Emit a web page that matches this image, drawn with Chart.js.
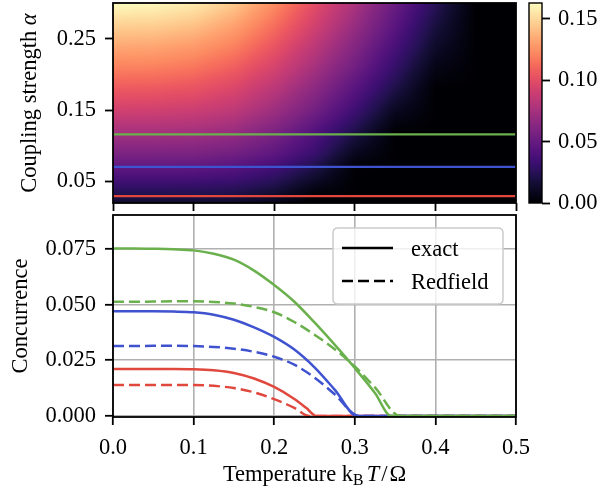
<!DOCTYPE html>
<html><head><meta charset="utf-8">
<script src="https://cdn.jsdelivr.net/npm/chart.js@4.4.0/dist/chart.umd.min.js"></script>
<style>
html,body{margin:0;padding:0;background:#fff;width:602px;height:493px;overflow:hidden}
canvas{position:absolute}
</style></head><body>
<canvas id="top" width="520" height="213" style="left:0;top:0"></canvas>
<canvas id="cbar" width="82" height="240" style="left:520px;top:0"></canvas>
<canvas id="bot" width="545" height="288" style="left:0;top:205px"></canvas>
<script>
// ---------------- data ----------------
const xTicks = [0, 0.1, 0.2, 0.3, 0.4, 0.5];
const alphaTicks = [0.05, 0.15, 0.25];
const concTicks = [0, 0.025, 0.05, 0.075];
const cbarTicks = [0, 0.05, 0.10, 0.15];

// heat map grid: temperature columns, coupling rows
const heatT = [0, 0.05, 0.1, 0.15, 0.2, 0.25, 0.3, 0.35, 0.4, 0.45, 0.5];
const heatAlpha = [0.02, 0.03, 0.05, 0.07, 0.09, 0.12, 0.15, 0.18, 0.21, 0.24, 0.27, 0.30];
const heatC = [
  [0.0140,0.0140,0.0139,0.0128,0.0075,0,0,0,0,0,0],
  [0.0211,0.0211,0.0210,0.0193,0.0130,0,0,0,0,0,0],
  [0.0340,0.0340,0.0337,0.0318,0.0248,0.0108,0,0,0,0,0],
  [0.0470,0.0470,0.0467,0.0430,0.0355,0.0215,0.0005,0,0,0,0],
  [0.0590,0.0590,0.0585,0.0550,0.0465,0.0320,0.0090,0,0,0,0],
  [0.0755,0.0754,0.0745,0.0700,0.0588,0.0420,0.0215,0,0,0,0],
  [0.0920,0.0917,0.0898,0.0845,0.0720,0.0550,0.0340,0.0100,0,0,0],
  [0.1060,0.1055,0.1030,0.0960,0.0830,0.0650,0.0440,0.0210,0,0,0],
  [0.1200,0.1195,0.1160,0.1080,0.0940,0.0750,0.0540,0.0300,0.0060,0,0],
  [0.1340,0.1330,0.1290,0.1200,0.1040,0.0840,0.0620,0.0380,0.0130,0,0],
  [0.1480,0.1470,0.1430,0.1320,0.1140,0.0930,0.0700,0.0450,0.0190,0,0],
  [0.1630,0.1615,0.1570,0.1450,0.1240,0.1000,0.0770,0.0510,0.0250,0,0]
];

// coupling strengths of the three cuts (red, blue, green)
const cutAlpha = [0.0297, 0.0707, 0.116];

// concurrence curves
const greenExactT = [0,0.025,0.05,0.075,0.1,0.125,0.15,0.175,0.2,0.225,0.25,0.275,0.3,0.325,0.345,0.4,0.5];
const greenExactC = [0.0752,0.0752,0.0751,0.0749,0.0744,0.0729,0.0702,0.0653,0.0588,0.0513,0.0420,0.0320,0.0215,0.0103,0,0,0];
const greenRedT = [0,0.025,0.05,0.075,0.1,0.125,0.15,0.175,0.2,0.225,0.25,0.275,0.3,0.325,0.356,0.4,0.5];
const greenRedC = [0.0513,0.0513,0.0514,0.0515,0.0515,0.0512,0.0505,0.0490,0.0466,0.0422,0.0365,0.0300,0.0222,0.0128,0,0,0];
const blueExactT = [0,0.025,0.05,0.075,0.1,0.125,0.15,0.175,0.2,0.225,0.25,0.275,0.303,0.4,0.5];
const blueExactC = [0.0470,0.0470,0.0470,0.0469,0.0466,0.0455,0.0432,0.0398,0.0355,0.0298,0.0218,0.0118,0,0,0];
const blueRedT = [0,0.025,0.05,0.075,0.1,0.125,0.15,0.175,0.2,0.225,0.25,0.275,0.305,0.4,0.5];
const blueRedC = [0.0314,0.0314,0.0315,0.0315,0.0314,0.0310,0.0302,0.0288,0.0266,0.0230,0.0172,0.0097,0,0,0];
const redExactT = [0,0.025,0.05,0.075,0.1,0.125,0.15,0.175,0.2,0.225,0.24,0.252,0.3,0.5];
const redExactC = [0.0211,0.0211,0.0211,0.0211,0.0210,0.0205,0.0193,0.0168,0.0130,0.0076,0.0035,0,0,0];
const redRedT = [0,0.025,0.05,0.075,0.1,0.125,0.15,0.175,0.2,0.225,0.243,0.3,0.5];
const redRedC = [0.0139,0.0139,0.0139,0.0139,0.0139,0.0135,0.0125,0.0106,0.0075,0.0036,0,0,0];

const legendLabels = ['exact', 'Redfield'];

// ---------------- styling ----------------
const GREEN = '#6ab04c', BLUE = '#3f52cf', RED = '#e0483e';
const FONT = "'Liberation Serif','Times New Roman',serif";
const FS = 22.5;
const DASH = [11, 5];
const LW = 2.5;

const MAGMA = [
 [0,0,4],[8,6,28],[20,14,54],[38,17,86],[59,15,112],[81,18,124],[100,26,128],[120,34,129],
 [140,41,129],[161,48,126],[183,55,121],[203,62,114],[222,73,104],[237,89,96],[247,112,92],
 [252,137,97],[254,159,109],[254,183,126],[254,207,146],[253,230,168],[252,253,191]
];
function magma(f){
  f = Math.max(0, Math.min(1, f));
  const p = f*(MAGMA.length-1), i = Math.min(MAGMA.length-2, Math.floor(p)), r = p-i;
  const a = MAGMA[i], b = MAGMA[i+1];
  return [a[0]+(b[0]-a[0])*r, a[1]+(b[1]-a[1])*r, a[2]+(b[2]-a[2])*r];
}
const VMAX = Math.max(...heatC.map(r => Math.max(...r)));

function findIdx(arr, v){
  if (v <= arr[0]) return [0, 0];
  if (v >= arr[arr.length-1]) return [arr.length-2, 1];
  for (let i = 0; i < arr.length-1; i++) if (v <= arr[i+1]) return [i, (v-arr[i])/(arr[i+1]-arr[i])];
  return [arr.length-2, 1];
}
function heatValue(t, a){
  const [i, fx] = findIdx(heatT, t), [j, fy] = findIdx(heatAlpha, a);
  const v00 = heatC[j][i], v01 = heatC[j][i+1], v10 = heatC[j+1][i], v11 = heatC[j+1][i+1];
  return (v00*(1-fx)+v01*fx)*(1-fy) + (v10*(1-fx)+v11*fx)*fy;
}

const fixTicks = arr => scale => { scale.ticks = arr.map(v => ({value: v})); };
const noPad = s => { s.paddingTop = 0; s.paddingBottom = 0; s.paddingLeft = 0; s.paddingRight = 0; };
const pts = (T, C) => T.map((t, i) => ({x: t, y: C[i]}));

function drawRich(ctx, segs, x, y, rotate){
  ctx.save();
  ctx.translate(x, y);
  if (rotate) ctx.rotate(-Math.PI/2);
  ctx.fillStyle = '#000';
  ctx.textBaseline = 'alphabetic';
  ctx.textAlign = 'left';
  let total = 0;
  segs.forEach(s => { ctx.font = s.font; s.w = ctx.measureText(s.t).width; total += s.w + (s.gap||0); });
  let cx = -total/2;
  segs.forEach(s => { cx += (s.gap||0); ctx.font = s.font; ctx.fillText(s.t, cx, s.dy||0); cx += s.w; });
  ctx.restore();
}
const framePlugin = {
  id: 'frame',
  afterDatasetsDraw(chart){
    const {ctx, chartArea: {left, top, right, bottom}} = chart;
    ctx.save(); ctx.strokeStyle = '#000'; ctx.lineWidth = 1.8;
    ctx.strokeRect(left, top, right-left, bottom-top); ctx.restore();
  }
};
const heatPlugin = {
  id: 'heat',
  beforeDatasetsDraw(chart){
    const {ctx, chartArea: {left, top, right, bottom}, scales: {x, y}} = chart;
    const w = Math.round(right-left), h = Math.round(bottom-top);
    const off = document.createElement('canvas'); off.width = w; off.height = h;
    const octx = off.getContext('2d'); const img = octx.createImageData(w, h);
    for (let j = 0; j < h; j++){
      const a = y.getValueForPixel(top + j + 0.5);
      for (let i = 0; i < w; i++){
        const t = x.getValueForPixel(left + i + 0.5);
        const c = magma(heatValue(t, a)/VMAX);
        const k = (j*w + i)*4;
        img.data[k] = c[0]; img.data[k+1] = c[1]; img.data[k+2] = c[2]; img.data[k+3] = 255;
      }
    }
    octx.putImageData(img, 0, 0);
    ctx.drawImage(off, left, top);
  }
};
const topTitle = {
  id: 'topTitle',
  afterDraw(chart){
    const {ctx, chartArea: {top, bottom}} = chart;
    drawRich(ctx, [
      {t: 'Coupling strength ', font: `${FS}px ${FONT}`},
      {t: 'α', font: `italic ${FS}px ${FONT}`}
    ], 36, (top+bottom)/2, true);
  }
};
const botTitle = {
  id: 'botTitle',
  afterDraw(chart){
    const {ctx, chartArea: {left, right, top, bottom}} = chart;
    drawRich(ctx, [{t: 'Concurrence', font: `${FS}px ${FONT}`}], 27, (top+bottom)/2, true);
    drawRich(ctx, [
      {t: 'Temperature k', font: `${FS}px ${FONT}`},
      {t: 'B', font: `${FS*0.7}px ${FONT}`, dy: 4},
      {t: 'T', font: `italic ${FS}px ${FONT}`, gap: 3},
      {t: '/', font: `${FS}px ${FONT}`, gap: 2},
      {t: 'Ω', font: `${FS}px ${FONT}`, gap: 2}
    ], (left+right)/2, bottom + 64, false);
  }
};
const legendPlugin = {
  id: 'customLegend',
  afterDatasetsDraw(chart){
    const {ctx, chartArea: {right, top}} = chart;
    const bw = 170, bh = 76, bx = right - 13 - bw, by = top + 13, r = 5;
    ctx.save();
    ctx.beginPath();
    ctx.moveTo(bx+r, by); ctx.lineTo(bx+bw-r, by); ctx.quadraticCurveTo(bx+bw, by, bx+bw, by+r);
    ctx.lineTo(bx+bw, by+bh-r); ctx.quadraticCurveTo(bx+bw, by+bh, bx+bw-r, by+bh);
    ctx.lineTo(bx+r, by+bh); ctx.quadraticCurveTo(bx, by+bh, bx, by+bh-r);
    ctx.lineTo(bx, by+r); ctx.quadraticCurveTo(bx, by, bx+r, by); ctx.closePath();
    ctx.fillStyle = 'rgba(255,255,255,0.8)'; ctx.fill();
    ctx.strokeStyle = '#cccccc'; ctx.lineWidth = 1.5; ctx.stroke();
    const rows = [by + 20, by + 53];
    rows.forEach((yy, i) => {
      ctx.beginPath(); ctx.strokeStyle = '#000'; ctx.lineWidth = LW;
      ctx.setLineDash(i === 0 ? [] : DASH);
      ctx.moveTo(bx + 9, yy); ctx.lineTo(bx + 60, yy); ctx.stroke();
      ctx.setLineDash([]);
      ctx.fillStyle = '#000'; ctx.font = `${FS}px ${FONT}`;
      ctx.textBaseline = 'alphabetic'; ctx.textAlign = 'left';
      ctx.fillText(legendLabels[i], bx + 78, yy + 7.5);
    });
    ctx.restore();
  }
};
const cbarPlugin = {
  id: 'cbar',
  beforeDatasetsDraw(chart){
    const {ctx, chartArea: {left, top, right, bottom}, scales: {y}} = chart;
    for (let j = Math.floor(top); j < bottom; j++){
      const c = magma(y.getValueForPixel(j + 0.5)/VMAX);
      ctx.fillStyle = `rgb(${c[0]|0},${c[1]|0},${c[2]|0})`;
      ctx.fillRect(left, j, right-left, 1);
    }
  },
  afterDraw(chart){
    const {ctx, chartArea: {left, top, right, bottom}} = chart;
    ctx.save(); ctx.strokeStyle = '#000'; ctx.lineWidth = 1.4;
    ctx.strokeRect(left, top, right-left, bottom-top); ctx.restore();
  }
};

const tickFont = {family: FONT, size: FS};
const common = {
  responsive: false, animation: false, devicePixelRatio: 1,
  plugins: {legend: {display: false}, tooltip: {enabled: false}},
  elements: {point: {radius: 0}}
};

// ---------------- top chart ----------------
const cutColors = [RED, BLUE, GREEN];
new Chart(document.getElementById('top'), {
  type: 'line',
  data: {datasets: cutAlpha.map((a, i) => ({
    data: [{x: 0, y: a}, {x: 0.5, y: a}], borderColor: cutColors[i], borderWidth: 2.2, fill: false
  }))},
  options: Object.assign({}, common, {
    layout: {padding: {top: 3, right: 4, left: 0, bottom: 0}},
    scales: {
      x: {type: 'linear', min: 0, max: 0.5, afterBuildTicks: fixTicks(xTicks), afterFit(s){ s.height = 10; noPad(s); },
          grid: {drawOnChartArea: false, tickLength: 8, tickColor: '#000', tickWidth: 1.8},
          border: {display: false},
          ticks: {callback: () => '', autoSkip: false, maxRotation: 0, font: tickFont}},
      y: {type: 'linear', min: 0.02, max: 0.3, afterBuildTicks: fixTicks(alphaTicks), afterFit(s){ s.width = 113; noPad(s); },
          grid: {drawOnChartArea: false, tickLength: 8, tickColor: '#000', tickWidth: 1.8},
          border: {display: false},
          ticks: {callback: v => v.toFixed(2), autoSkip: false, font: tickFont, color: '#000', padding: 9}}
    }
  }),
  plugins: [heatPlugin, framePlugin, topTitle]
});

// ---------------- colorbar ----------------
new Chart(document.getElementById('cbar'), {
  type: 'line',
  data: {datasets: []},
  options: Object.assign({}, common, {
    layout: {padding: {top: 3, right: 0, left: 9, bottom: 37}},
    scales: {
      x: {type: 'linear', display: false, min: 0, max: 1},
      y: {type: 'linear', position: 'right', min: 0, max: VMAX, afterBuildTicks: fixTicks(cbarTicks), afterFit(s){ s.width = 60; noPad(s); },
          grid: {drawOnChartArea: false, tickLength: 8, tickColor: '#000', tickWidth: 1.8},
          border: {display: false},
          ticks: {callback: v => v.toFixed(2), autoSkip: false, font: tickFont, color: '#000', padding: 8}}
    }
  }),
  plugins: [cbarPlugin]
});

// ---------------- bottom chart ----------------
const lineDs = (T, C, color, dashed) => ({
  data: pts(T, C), borderColor: color, borderWidth: LW, borderDash: dashed ? DASH : [],
  fill: false, cubicInterpolationMode: 'monotone'
});
new Chart(document.getElementById('bot'), {
  type: 'line',
  data: {datasets: [
    lineDs(greenExactT, greenExactC, GREEN, false),
    lineDs(greenRedT, greenRedC, GREEN, true),
    lineDs(blueExactT, blueExactC, BLUE, false),
    lineDs(blueRedT, blueRedC, BLUE, true),
    lineDs(redExactT, redExactC, RED, false),
    lineDs(redRedT, redRedC, RED, true)
  ]},
  options: Object.assign({}, common, {
    layout: {padding: {top: 10, right: 29, left: 0, bottom: 0}},
    scales: {
      x: {type: 'linear', min: 0, max: 0.5, afterBuildTicks: fixTicks(xTicks), afterFit(s){ s.height = 76; noPad(s); },
          grid: {color: '#b0b0b0', lineWidth: 1.6, tickLength: 8, tickColor: '#000', tickWidth: 1.8},
          border: {display: false},
          ticks: {callback: v => v.toFixed(1), autoSkip: false, maxRotation: 0, font: tickFont, color: '#000', padding: 10}},
      y: {type: 'linear', min: -0.0005, max: 0.0903, afterBuildTicks: fixTicks(concTicks), afterFit(s){ s.width = 113; noPad(s); },
          grid: {color: '#b0b0b0', lineWidth: 1.6, tickLength: 8, tickColor: '#000', tickWidth: 1.8},
          border: {display: false},
          ticks: {callback: v => v.toFixed(3), autoSkip: false, font: tickFont, color: '#000', padding: 9}}
    }
  }),
  plugins: [framePlugin, legendPlugin, botTitle]
});
</script>
</body></html>
